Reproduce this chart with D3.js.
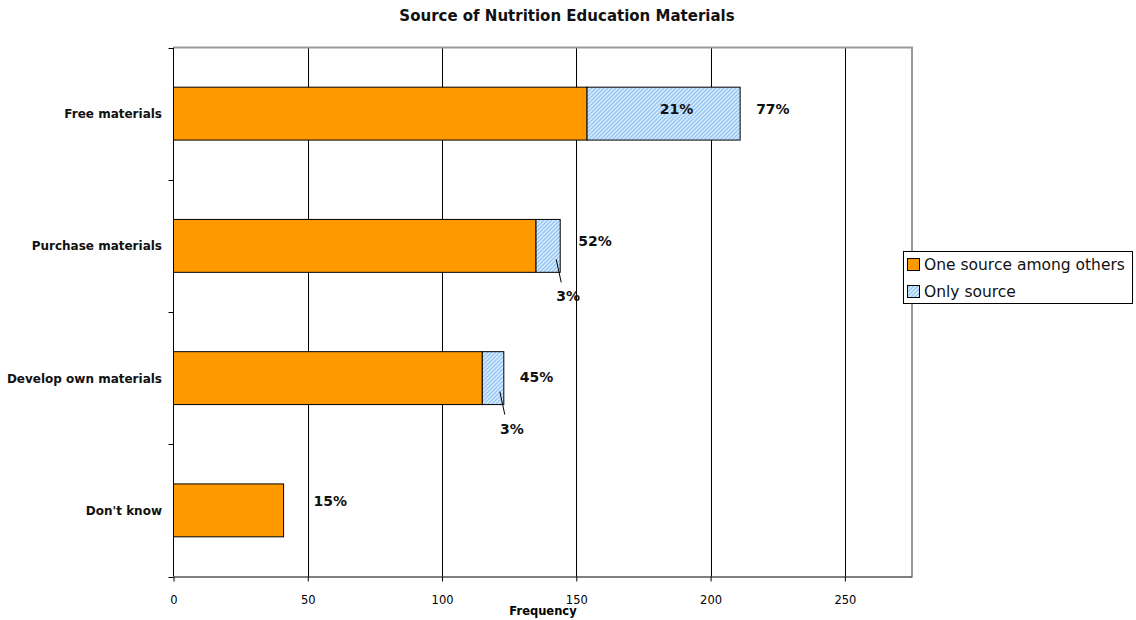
<!DOCTYPE html>
<html>
<head>
<meta charset="utf-8">
<script src="https://cdn.jsdelivr.net/npm/d3@7"></script>
<style>
  html, body { margin: 0; padding: 0; background: #fff; }
  svg { display: block; font-family: "DejaVu Sans", Verdana, sans-serif; }
</style>
</head>
<body>
<svg id="chart" width="1136" height="620"></svg>
<script>
// Survey answers: where nutrition education materials come from
const categories = ["Free materials", "Purchase materials", "Develop own materials", "Don't know"];
const amongOthers = [154, 135, 115, 41];   // one source among others
const onlySource  = [57, 9, 8, 0];         // the only source used
const respondents = 275;
const seriesNames = ["One source among others", "Only source"];
const xTicks = [0, 50, 100, 150, 200, 250];
const xMax = 275;

// Layout
const plot = { left: 173.5, right: 912, top: 47.5, bottom: 576.5 };
const orange = "#FF9900";
const pct = d3.format(".0%");

const svg = d3.select("#chart");

// Diagonal hatch used for the "only source" segments
const defs = svg.append("defs");
const pat = defs.append("pattern")
  .attr("id", "hatch")
  .attr("patternUnits", "userSpaceOnUse")
  .attr("width", 4).attr("height", 4);
pat.append("rect").attr("width", 4).attr("height", 4).attr("fill", "#dcedff");
pat.append("path")
  .attr("d", "M-1,1 l2,-2 M0,4 l4,-4 M3,5 l2,-2")
  .attr("stroke", "#94c6f4").attr("stroke-width", 1.4);

const x = d3.scaleLinear().domain([0, xMax]).range([plot.left, plot.right]);
const y = d3.scaleBand().domain(categories)
  .range([plot.top, plot.bottom])
  .paddingInner(0.6).paddingOuter(0.3);

// Title
svg.append("text")
  .attr("x", 567).attr("y", 21)
  .attr("text-anchor", "middle")
  .attr("font-size", 15).attr("font-weight", "bold")
  .attr("fill", "#111")
  .text("Source of Nutrition Education Materials");

// Vertical gridlines
svg.append("g")
  .selectAll("line")
  .data(xTicks.filter(t => t > 0))
  .join("line")
  .attr("x1", d => Math.round(x(d)) + 0.5).attr("x2", d => Math.round(x(d)) + 0.5)
  .attr("y1", plot.top).attr("y2", plot.bottom)
  .attr("stroke", "#000").attr("stroke-width", 1);

// Grey frame on top and right
svg.append("path")
  .attr("d", `M${plot.left},${plot.top} H${plot.right} V${plot.bottom}`)
  .attr("fill", "none").attr("stroke", "#9a9a9a").attr("stroke-width", 2);

// X axis
const xAxis = d3.axisBottom(x).tickValues(xTicks)
  .tickSize(5).tickSizeOuter(0).tickPadding(14);
const gx = svg.append("g")
  .attr("transform", `translate(0,${plot.bottom})`)
  .call(xAxis);
gx.select(".domain").attr("stroke", "#000");
gx.selectAll(".tick line").attr("stroke", "#000");
gx.selectAll(".tick text")
  .attr("font-family", "DejaVu Sans, sans-serif")
  .attr("font-size", 11.5).attr("fill", "#000");

svg.append("text")
  .attr("x", 543).attr("y", 615)
  .attr("text-anchor", "middle")
  .attr("font-size", 11.5).attr("font-weight", "bold")
  .text("Frequency");

// Y axis: ticks sit between categories
const gy = svg.append("g");
gy.append("line")
  .attr("x1", plot.left).attr("x2", plot.left)
  .attr("y1", plot.top).attr("y2", plot.bottom)
  .attr("stroke", "#000");
const step = y.step();
const boundaries = d3.range(categories.length + 1).map(i => plot.top + i * step);
gy.selectAll("line.tk")
  .data(boundaries)
  .join("line").attr("class", "tk")
  .attr("x1", plot.left - 5).attr("x2", plot.left)
  .attr("y1", d => Math.round(d) + 0.5).attr("y2", d => Math.round(d) + 0.5)
  .attr("stroke", "#000");
gy.selectAll("text")
  .data(categories)
  .join("text")
  .attr("x", 162)
  .attr("y", d => y(d) + y.bandwidth() / 2 + 4.5)
  .attr("text-anchor", "end")
  .attr("font-size", 12).attr("font-weight", "bold")
  .attr("fill", "#111")
  .text(d => d);

// Bars
const rows = categories.map((c, i) => ({
  cat: c,
  a: amongOthers[i],
  b: onlySource[i],
  total: amongOthers[i] + onlySource[i]
}));

const bars = svg.append("g");
bars.selectAll("rect.a")
  .data(rows)
  .join("rect").attr("class", "a")
  .attr("x", x(0))
  .attr("y", d => y(d.cat))
  .attr("width", d => x(d.a) - x(0))
  .attr("height", y.bandwidth())
  .attr("fill", orange).attr("stroke", "#000").attr("stroke-width", 1);
bars.selectAll("rect.b")
  .data(rows.filter(d => d.b > 0))
  .join("rect").attr("class", "b")
  .attr("x", d => x(d.a))
  .attr("y", d => y(d.cat))
  .attr("width", d => x(d.total) - x(d.a))
  .attr("height", y.bandwidth())
  .attr("fill", "url(#hatch)").attr("stroke", "#000").attr("stroke-width", 1);

// Share of respondents at the end of each bar
const totalDx = [16, 18, 16, 30];
const totalDy = [-5, -5, -1, -9];
svg.append("g").selectAll("text")
  .data(rows)
  .join("text")
  .attr("x", (d, i) => x(d.total) + totalDx[i])
  .attr("y", (d, i) => y(d.cat) + y.bandwidth() / 2 + 5 + totalDy[i])
  .attr("font-size", 14).attr("font-weight", "bold")
  .attr("fill", "#111")
  .text(d => pct(d.total / respondents));

// "Only source" share: inside wide segments, below with a leader for thin ones
const seg = svg.append("g");
rows.filter(d => d.b > 0).forEach(d => {
  const w = x(d.total) - x(d.a);
  const share = pct(d.b / respondents);
  if (w > 60) {
    seg.append("text")
      .attr("x", (x(d.a) + x(d.total)) / 2 + 13)
      .attr("y", y(d.cat) + y.bandwidth() / 2)
      .attr("text-anchor", "middle")
      .attr("font-size", 14).attr("font-weight", "bold")
      .attr("fill", "#111")
      .text(share);
  } else {
    const bottom = y(d.cat) + y.bandwidth();
    const x0 = x(d.total) - 4;
    seg.append("line")
      .attr("x1", x0).attr("y1", bottom - 13)
      .attr("x2", x0 + 5).attr("y2", bottom + 10)
      .attr("stroke", "#000").attr("stroke-width", 1);
    seg.append("text")
      .attr("x", x0 + 12)
      .attr("y", bottom + 29)
      .attr("text-anchor", "middle")
      .attr("font-size", 14).attr("font-weight", "bold")
      .attr("fill", "#111")
      .text(share);
  }
});

// Legend
const lg = svg.append("g");
lg.append("rect")
  .attr("x", 903.5).attr("y", 251.5)
  .attr("width", 229).attr("height", 52)
  .attr("fill", "#fff").attr("stroke", "#000");
const swatchFill = [orange, "url(#hatch)"];
seriesNames.forEach((name, i) => {
  const cy = 265 + i * 27;
  lg.append("rect")
    .attr("x", 907.5).attr("y", cy - 6.5)
    .attr("width", 12).attr("height", 12)
    .attr("fill", swatchFill[i]).attr("stroke", "#000");
  lg.append("text")
    .attr("x", 924).attr("y", cy + 5)
    .attr("font-size", 15.5).attr("fill", "#111")
    .text(name);
});
</script>
</body>
</html>
